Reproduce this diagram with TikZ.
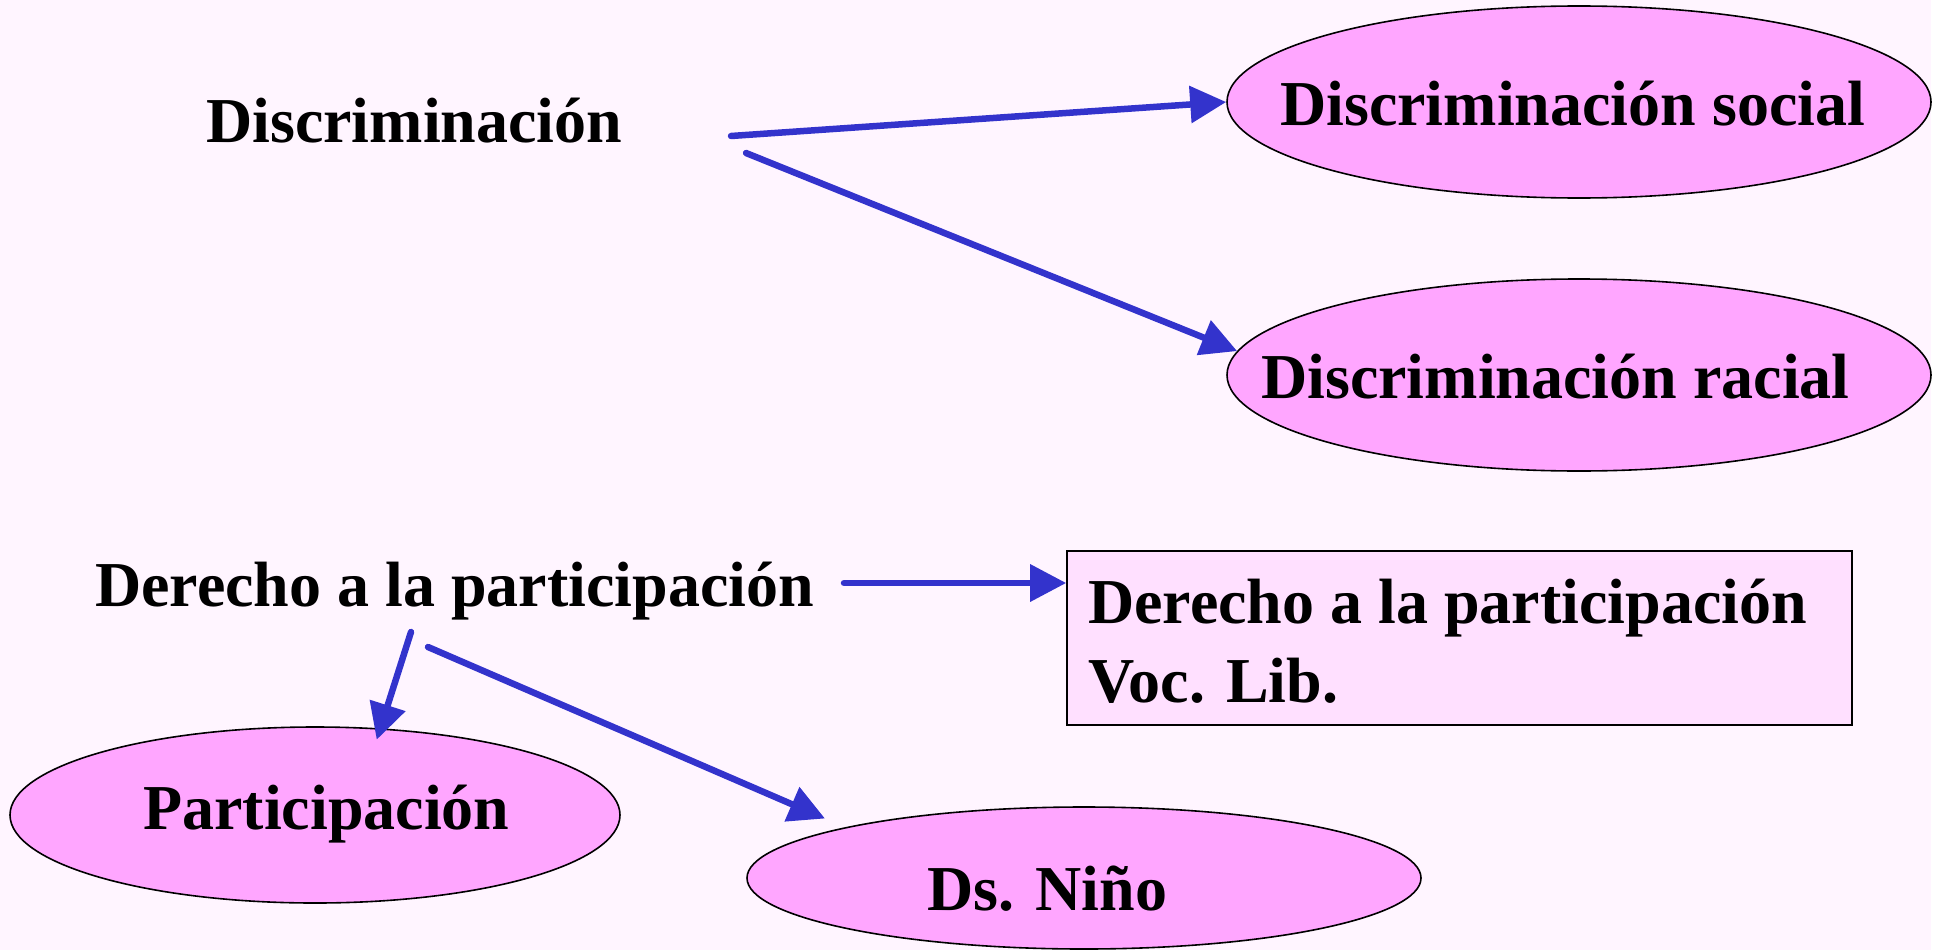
\documentclass[tikz,border=0pt]{standalone}
\usepackage{fontspec}
\setmainfont{Liberation Serif}
\usetikzlibrary{shapes.geometric,arrows.meta}
\definecolor{bgc}{HTML}{FFF5FF}
\definecolor{blobc}{HTML}{FFA6FF}
\definecolor{boxc}{HTML}{FFE0FF}
\definecolor{arrc}{HTML}{3333CC}
\tikzset{
  blob/.style={ellipse, draw=black, line width=1.6pt, fill=blobc, inner sep=0pt},
  lbl/.style={font=\bfseries\fontsize{64}{79}\selectfont, inner sep=0pt, anchor=base west},
  conn/.style={draw=arrc, line width=6.5pt, line cap=round, -{Triangle[length=36pt,width=36pt]}},
}
\begin{document}
\begin{tikzpicture}[x=1pt,y=-1pt]
\useasboundingbox (0,0) rectangle (1937,950);
\fill[bgc] (0,0) rectangle (1931,950);
% ellipses
\node[blob, minimum width=704pt, minimum height=192pt] (soc) at (1579,102) {};
\node[blob, minimum width=704pt, minimum height=192pt] (rac) at (1579,375) {};
\node[blob, minimum width=610pt, minimum height=176pt] (par) at (315,815) {};
\node[blob, minimum width=674pt, minimum height=142pt] (nin) at (1084,878) {};
\node[draw=black, line width=1.6pt, fill=boxc, minimum width=785pt, minimum height=174pt, inner sep=0pt] (box) at (1459.5,638) {};
% texts
\node[lbl] (disc) at (206,142) {Discriminación};
\node[lbl] (socT) at (1280,125) {Discriminación social};
\node[lbl] (racT) at (1261,398) {Discriminación racial};
\node[lbl] (der) at (95,606) {Derecho a la participación};
\node[lbl] (boxT1) at (1088,623) {Derecho a la participación};
\node[lbl] (boxT2) at (1088,702) {Voc. Lib.};
\node[lbl] (parT) at (143,829) {Participación};
\node[lbl] (ninT) at (927,910) {Ds. Niño};
% connector starts
\coordinate (s1) at (731,136);
\coordinate (s2) at (746,153);
\coordinate (s3) at (844,583);
\coordinate (s4) at (411,632);
\coordinate (s5) at (428,647);
% connectors
\draw[conn] (s1) -- (soc.west);
\draw[conn] (s2) -- (rac.176);
\draw[conn] (s3) -- (s3 -| box.west);
\draw[conn, shorten >=-12pt] (s4) -- (par.53);
\draw[conn, shorten >=22pt] (s5) -- (nin.168);
\end{tikzpicture}
\end{document}
